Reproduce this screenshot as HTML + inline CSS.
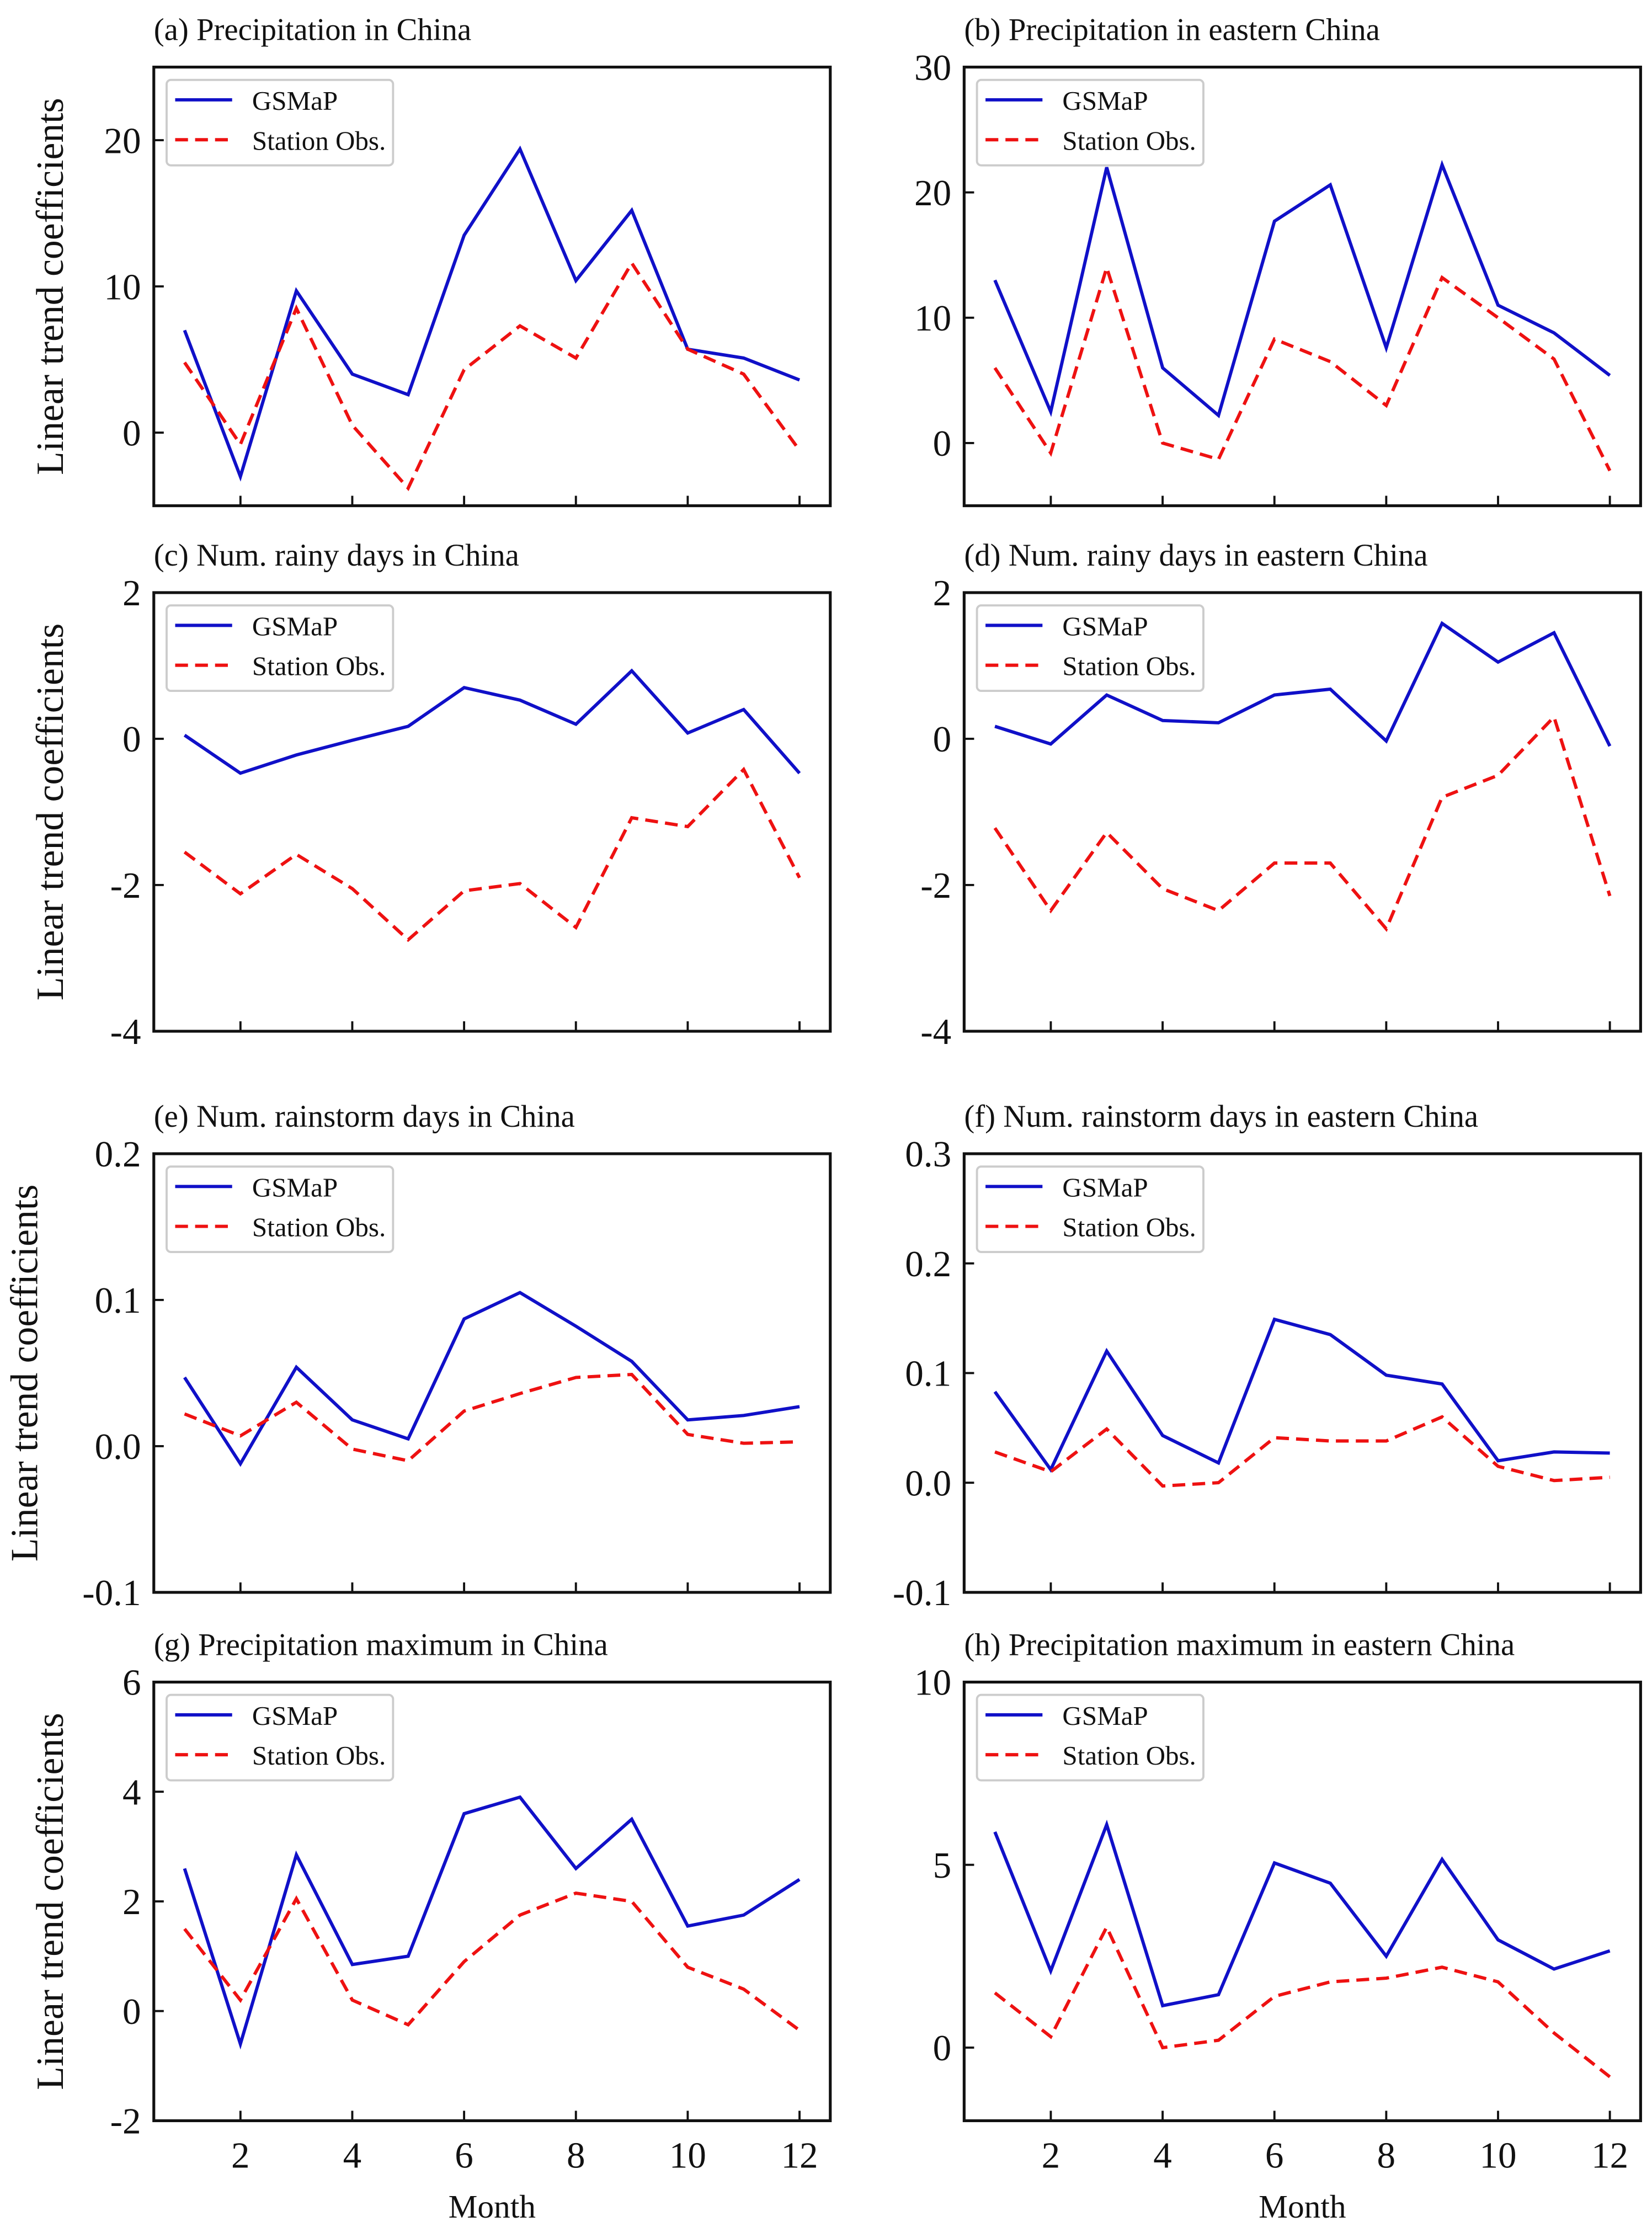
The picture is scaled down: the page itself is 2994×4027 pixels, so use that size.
<!DOCTYPE html>
<html><head><meta charset="utf-8"><style>
html,body{margin:0;padding:0;background:#fff}
svg{display:block}
text{font-family:"Liberation Serif",serif;fill:#111}
</style></head><body>
<svg id="fig" xmlns="http://www.w3.org/2000/svg" width="2994" height="4027" viewBox="0 0 1160 1560"></svg>
<script>
const months = [1,2,3,4,5,6,7,8,9,10,11,12];
const titles = ["(a) Precipitation in China","(b) Precipitation in eastern China","(c) Num. rainy days in China","(d) Num. rainy days in eastern China","(e) Num. rainstorm days in China","(f) Num. rainstorm days in eastern China","(g) Precipitation maximum in China","(h) Precipitation maximum in eastern China"];
const gsmapA = [7,-3,9.7,4,2.6,13.5,19.4,10.4,15.2,5.7,5.1,3.6];
const stationA = [4.8,-0.8,8.5,0.5,-3.8,4.3,7.3,5.1,11.6,5.7,4,-1.2];
const gsmapB = [13,2.5,22,6,2.2,17.7,20.6,7.6,22.2,11,8.8,5.4];
const stationB = [6,-0.8,14,0,-1.3,8.3,6.5,3,13.2,10,6.7,-2.2];
const gsmapC = [0.05,-0.47,-0.22,-0.02,0.17,0.7,0.53,0.2,0.93,0.08,0.4,-0.47];
const stationC = [-1.55,-2.12,-1.58,-2.05,-2.75,-2.08,-1.98,-2.58,-1.08,-1.2,-0.42,-1.9];
const gsmapD = [0.17,-0.07,0.6,0.25,0.22,0.6,0.68,-0.03,1.58,1.05,1.45,-0.1];
const stationD = [-1.22,-2.35,-1.28,-2.05,-2.35,-1.7,-1.7,-2.6,-0.8,-0.5,0.3,-2.15];
const gsmapE = [0.047,-0.012,0.054,0.018,0.005,0.087,0.105,0.082,0.058,0.018,0.021,0.027];
const stationE = [0.022,0.007,0.03,-0.002,-0.01,0.024,0.036,0.047,0.049,0.008,0.002,0.003];
const gsmapF = [0.083,0.012,0.12,0.043,0.018,0.149,0.135,0.098,0.09,0.02,0.028,0.027];
const stationF = [0.028,0.01,0.049,-0.003,0,0.041,0.038,0.038,0.06,0.015,0.002,0.005];
const gsmapG = [2.6,-0.6,2.85,0.85,1,3.6,3.9,2.6,3.5,1.55,1.75,2.4];
const stationG = [1.5,0.2,2.05,0.2,-0.25,0.9,1.75,2.15,2.0,0.8,0.4,-0.35];
const gsmapH = [5.9,2.1,6.1,1.15,1.45,5.05,4.5,2.5,5.15,2.95,2.15,2.65];
const stationH = [1.5,0.3,3.3,0,0.2,1.4,1.8,1.9,2.2,1.8,0.4,-0.8];
const yTicksA = [0,10,20], yTicksB=[0,10,20,30], yTicksC=[-4,-2,0,2], yTicksE=[-0.1,0.0,0.1,0.2], yTicksF=[-0.1,0.0,0.1,0.2,0.3], yTicksG=[-2,0,2,4,6], yTicksH=[0,5,10];
const yTickLabelsE = ["-0.1","0.0","0.1","0.2"], yTickLabelsF=["-0.1","0.0","0.1","0.2","0.3"];
const xTicks = [2,4,6,8,10,12];

const panels = [
 {g:gsmapA,s:stationA,yl:[-5,25],yt:yTicksA},
 {g:gsmapB,s:stationB,yl:[-5,30],yt:yTicksB},
 {g:gsmapC,s:stationC,yl:[-4,2],yt:yTicksC},
 {g:gsmapD,s:stationD,yl:[-4,2],yt:yTicksC},
 {g:gsmapE,s:stationE,yl:[-0.1,0.2],yt:yTicksE,lab:yTickLabelsE},
 {g:gsmapF,s:stationF,yl:[-0.1,0.3],yt:yTicksF,lab:yTickLabelsF},
 {g:gsmapG,s:stationG,yl:[-2,6],yt:yTicksG},
 {g:gsmapH,s:stationH,yl:[-2,10],yt:yTicksH}
];
const NS="http://www.w3.org/2000/svg";
const svg=document.getElementById('fig');
function mk(tag,attrs,parent,txt){const e=document.createElementNS(NS,tag);for(const k in attrs)e.setAttribute(k,attrs[k]);if(txt!==undefined)e.textContent=txt;(parent||svg).appendChild(e);return e;}
const colX=[108,677], rowY=[47,416,810,1181], W=475, H=308;
panels.forEach((p,i)=>{
  const L=colX[i%2], T=rowY[Math.floor(i/2)];
  const g=mk('g',{});
  
  
  const xs=v=>L+(v-0.45)/(12.55-0.45)*W;
  const ys=v=>T+H-(v-p.yl[0])/(p.yl[1]-p.yl[0])*H;
  const t=mk('text',{x:L,y:T-19,'font-size':22},g,titles[i]);
  
  
  p.yt.forEach((v,k)=>{
    const y=ys(v);
    mk('line',{x1:L,x2:L+7,y1:y,y2:y,stroke:'#111','stroke-width':1.5},g);
    const lb=mk('text',{x:L-9,y:y+9,'font-size':26,'text-anchor':'end'},g,p.lab?p.lab[k]:String(v));
    
    
  });
  xTicks.forEach(v=>{
    const x=xs(v);
    mk('line',{x1:x,x2:x,y1:T+H,y2:T+H-7,stroke:'#111','stroke-width':1.5},g);
    if(i>=6){
      const lb=mk('text',{x:x,y:1522,'font-size':26,'text-anchor':'middle'},g,String(v));
      
      
    }
  });
  const pts=a=>a.map((v,k)=>xs(months[k]).toFixed(1)+','+ys(v).toFixed(1)).join(' ');
  const l1=mk('polyline',{points:pts(p.g),fill:'none',stroke:'#1010c8','stroke-width':2.3},g);
  
  
  const l2=mk('polyline',{points:pts(p.s),fill:'none',stroke:'#ee1111','stroke-width':2.3,'stroke-dasharray':'9,5'},g);
  
  
  const fr=mk('rect',{x:L,y:T,width:W,height:H,fill:'none',stroke:'#111','stroke-width':2},g);
  
  
  const lg=mk('g',{},g);
  
  
  mk('rect',{x:L+9,y:T+9,width:159,height:60,rx:3,fill:'#fff',stroke:'#ccc','stroke-width':1.5},lg);
  mk('line',{x1:L+15,x2:L+55,y1:T+23,y2:T+23,stroke:'#1010c8','stroke-width':2.3},lg);
  mk('text',{x:L+69,y:T+30,'font-size':19},lg,'GSMaP');
  mk('line',{x1:L+15,x2:L+55,y1:T+51,y2:T+51,stroke:'#ee1111','stroke-width':2.3,'stroke-dasharray':'9,5'},lg);
  mk('text',{x:L+69,y:T+58,'font-size':19},lg,'Station Obs.');
  if(i%2===0){
    const cx=(i===4)?20:38, cy=T+H/2;
    const yl=mk('text',{x:cx,y:cy,'font-size':27,'text-anchor':'middle',transform:`rotate(-90 ${cx} ${cy})`,'dominant-baseline':'middle'},g,'Linear trend coefficients');
    
    
  }
  if(i>=6){
    const xl=mk('text',{x:L+W/2,y:1557,'font-size':23,'text-anchor':'middle'},g,'Month');
    
    
  }
});
</script>
</body></html>
